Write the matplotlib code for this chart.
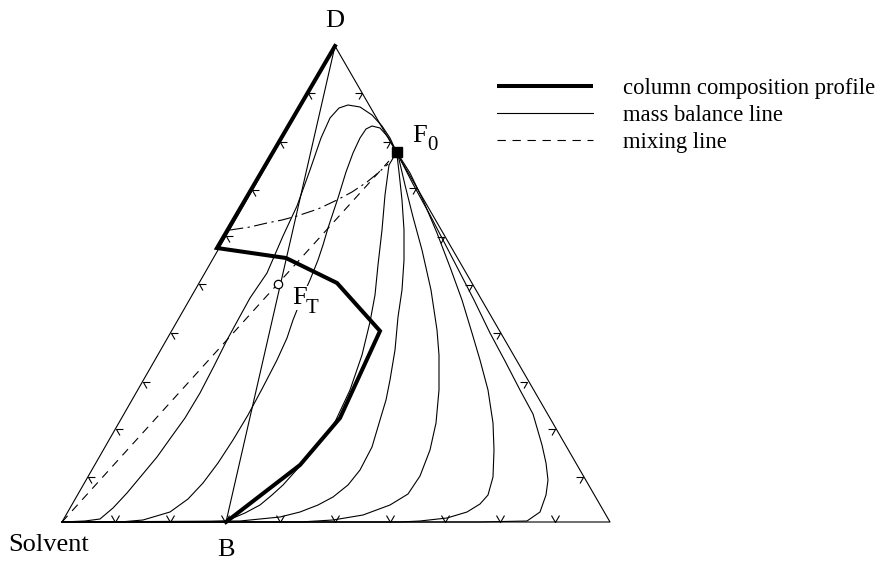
import numpy as np
import matplotlib.pyplot as plt
from matplotlib.path import Path
from matplotlib.lines import Line2D

plt.rcParams['font.family'] = ['Liberation Serif', 'DejaVu Serif']

# drawing units: x to the right, y downward
solvent = (62, 522)
corner_r = (610, 522)
distillate = (335, 46)
bottoms = (226, 522)
feed_f0 = (397, 152)
feed_ft = (278, 284)

# column composition profile (stage by stage)
profile = [(335, 46), (217, 248), (286, 258), (337, 283), (380, 331),
           (340, 418), (300, 465), (226, 522)]

# residue curves, from the solvent corner up to F0
rc1 = [(62, 522), (85, 521), (100, 519), (113, 508), (127, 493), (142, 475),
       (157, 457), (172, 436), (185, 418), (200, 393), (214, 366), (227, 340),
       (239, 318), (250, 298), (267, 273), (283, 236), (297, 206), (310, 170),
       (321, 138), (330, 118), (339, 108), (348, 105), (360, 107), (372, 115),
       (382, 126), (390, 138), (396, 151)]
rc2 = [(62, 522), (120, 522), (143, 520), (170, 512), (188, 499), (203, 483),
       (218, 463), (233, 440), (248, 415), (262, 389), (277, 360), (287, 338),
       (293, 320), (301, 300), (310, 280), (318, 260), (323, 245), (328, 228),
       (338, 198), (346, 172), (353, 153), (360, 138), (366, 129), (372, 126),
       (380, 128), (388, 137), (396, 151)]
rc3 = [(62, 522), (200, 522), (226, 521), (245, 513), (260, 505), (272, 495),
       (283, 485), (300, 466), (318, 445), (335, 422), (350, 390), (362, 355),
       (370, 322), (375, 295), (378, 265), (382, 230), (385, 195), (389, 165),
       (396, 153)]
rc4 = [(62, 522), (240, 521), (280, 517), (300, 512), (318, 505), (333, 497),
       (348, 485), (360, 470), (372, 447), (380, 420), (386, 400), (390, 380),
       (395, 350), (398, 317), (402, 290), (404, 260), (404, 230), (402, 200),
       (399, 172), (397, 155)]
rc5 = [(62, 522), (300, 522), (333, 520), (363, 515), (390, 505), (408, 494),
       (420, 476), (430, 450), (436, 423), (439, 390), (439, 355), (437, 330),
       (431, 290), (422, 250), (413, 217), (405, 185), (398, 155)]
rc6 = [(62, 522), (400, 522), (420, 521), (447, 518), (467, 512), (480, 504),
       (488, 495), (493, 477), (494, 450), (493, 423), (488, 390), (480, 360),
       (472, 333), (462, 300), (450, 267), (437, 233), (423, 200), (410, 173),
       (398, 154)]
rc7 = [(62, 522), (480, 522), (527, 521), (540, 512), (546, 495), (548, 480),
       (546, 463), (542, 445), (533, 414), (520, 390), (505, 361), (490, 333),
       (474, 300), (457, 267), (443, 240), (430, 215), (413, 184), (398, 155)]
residue_curves = [rc1, rc2, rc3, rc4, rc5, rc6, rc7]

# boundary between the two distillation regions
boundary = [(230, 230), (250, 227), (267, 223), (282, 220), (297, 216),
            (318, 209), (337, 200), (352, 192), (367, 182), (378, 173),
            (388, 164)]

# mixing line: solvent + F0 -> F_T
mixing = [solvent, (389, 161)]
# mass balance line: D - F_T - B
mass_balance = [distillate, bottoms]

# direction marks on the triangle edges
arrows_bottom = [(115, 522), (170, 522), (225, 522), (280, 522), (335, 522),
                 (390, 522), (445, 522), (500, 522), (555, 522)]
arrows_left = [(88, 477), (116, 429), (143, 382), (171, 333), (199, 284),
               (226, 236), (252, 190), (280, 142), (308, 93)]
arrows_right = [(362, 93), (390, 142), (416, 188), (444, 237), (472, 285),
                (500, 333), (527, 382), (555, 429), (583, 477)]

legend_labels = ['column composition profile', 'mass balance line', 'mixing line']


def chevron(a1, a2):
    return Path([a1, (0, 0), a2], [Path.MOVETO, Path.LINETO, Path.LINETO])


def xy(points):
    arr = np.array(points, dtype=float)
    return arr[:, 0], arr[:, 1]


fig = plt.figure(figsize=(8.87, 5.62), dpi=100)
ax = fig.add_axes([0, 0, 1, 1])
ax.set_xlim(0, 887)
ax.set_ylim(562, 0)
ax.axis('off')

thin = dict(color='black', lw=0.8)

# triangle
ax.plot(*xy([solvent, corner_r, distillate, solvent]), **thin)

for curve in residue_curves:
    ax.plot(*xy(curve), **thin)

ax.plot(*xy(boundary), color='black', lw=0.8, linestyle=(0, (12, 4, 2, 4)))
ax.plot(*xy(mixing), color='black', lw=0.8, linestyle=(0, (7.5, 6)))
ax.plot(*xy(mass_balance), **thin)
ax.plot(*xy(profile), color='black', lw=2.9, solid_joinstyle='miter')

# edge arrows point out of the triangle
mk = dict(color='black', markerfacecolor='none', markeredgewidth=0.8,
          linestyle='none', markersize=10)
ax.plot(*xy(arrows_bottom), marker=chevron((-0.5, 0.866), (0.5, 0.866)), **mk)
ax.plot(*xy(arrows_left), marker=chevron((1, 0), (0.5, -0.866)), **mk)
ax.plot(*xy(arrows_right), marker=chevron((-1, 0), (-0.5, -0.866)), **mk)

ax.plot(*feed_f0, marker='s', color='black', markersize=6.5)
ax.plot(*feed_ft, marker='o', markerfacecolor='white', markeredgecolor='black',
        markeredgewidth=0.9, markersize=6)

fs = 19
sub = 15
ax.text(335, 21, 'D', fontsize=fs, ha='center', va='center')
ax.text(8, 545, 'Solvent', fontsize=fs, ha='left', va='center')
ax.text(226, 550, 'B', fontsize=fs, ha='center', va='center')
ax.text(412, 142, 'F', fontsize=fs, ha='left', va='baseline')
ax.text(427, 150, '0', fontsize=sub, ha='left', va='baseline')
ax.text(292, 304, 'F', fontsize=fs, ha='left', va='baseline',
        bbox=dict(facecolor='white', edgecolor='none', pad=1))
ax.text(306, 313, 'T', fontsize=sub, ha='left', va='baseline')

handles = [Line2D([], [], color='black', lw=2.9, solid_capstyle='butt'),
           Line2D([], [], color='black', lw=0.8),
           Line2D([], [], color='black', lw=0.8, linestyle=(0, (7.5, 6)))]
ax.legend(handles, legend_labels, loc='upper left',
          bbox_to_anchor=(497 / 887, 1 - 78 / 562), frameon=False,
          fontsize=16.3, handlelength=4.25, handletextpad=1.3,
          labelspacing=0.27, borderpad=0, borderaxespad=0)

fig.savefig('out.png', dpi=100)
